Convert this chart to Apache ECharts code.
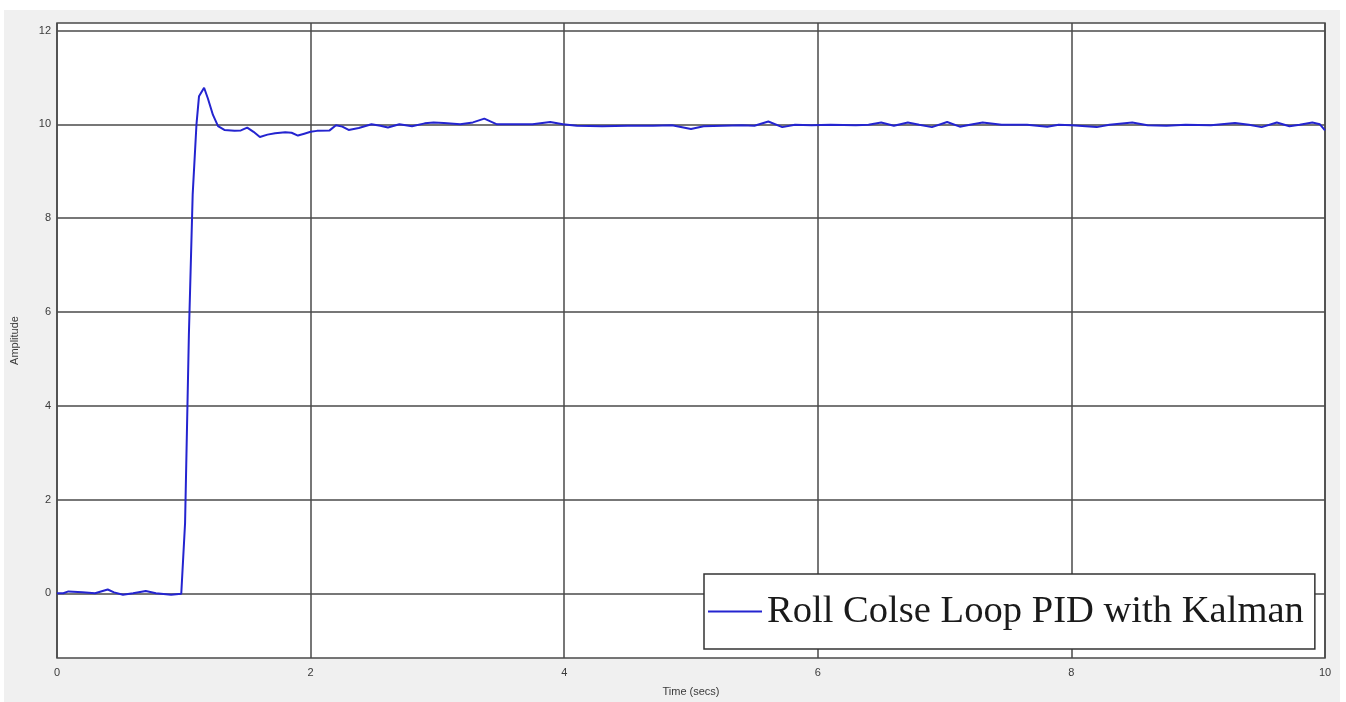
<!DOCTYPE html>
<html><head><meta charset="utf-8">
<script src="https://cdn.jsdelivr.net/npm/echarts@6/dist/echarts.min.js"></script>
<style>
html,body{margin:0;padding:0;background:#fff;}
#bg{position:absolute;left:4px;top:10px;width:1336px;height:692px;background:#f0f0f0;}
#chart{position:absolute;left:0;top:0;width:1346px;height:702px;}
</style></head>
<body>
<div id="bg"></div>
<div id="chart"></div>
<script>
const seriesName = 'Roll Colse Loop PID with Kalman';
const xTicks = [0, 2, 4, 6, 8, 10];
const yTicks = [0, 2, 4, 6, 8, 10, 12];
const times = [0,0.05,0.09,0.2,0.3,0.4,0.45,0.52,0.6,0.7,0.78,0.9,0.98,0.99,1.01,1.04,1.07,1.10,1.12,1.16,1.19,1.23,1.27,1.32,1.40,1.45,1.50,1.55,1.60,1.66,1.72,1.80,1.85,1.90,1.95,2.0,2.05,2.15,2.2,2.25,2.3,2.38,2.48,2.55,2.61,2.7,2.8,2.9,2.97,3.05,3.18,3.28,3.37,3.47,3.6,3.75,3.89,3.99,4.1,4.3,4.5,4.7,4.85,5.0,5.1,5.25,5.4,5.5,5.61,5.72,5.82,5.95,6.1,6.3,6.4,6.5,6.6,6.71,6.8,6.9,7.02,7.12,7.2,7.3,7.45,7.65,7.81,7.9,8.0,8.2,8.3,8.48,8.6,8.75,8.9,9.1,9.29,9.4,9.5,9.62,9.72,9.8,9.9,9.96,10.0];
const amplitude = [0,0.0,0.04,0.02,0.0,0.08,0.02,-0.03,0.0,0.05,0.0,-0.03,-0.01,0,1.5,5.5,8.5,10.0,10.6,10.78,10.55,10.2,9.96,9.88,9.86,9.87,9.93,9.84,9.73,9.78,9.81,9.83,9.82,9.76,9.8,9.84,9.86,9.87,9.98,9.95,9.88,9.92,10.0,9.97,9.93,10.0,9.96,10.02,10.04,10.03,10.0,10.04,10.12,10.0,10.0,10.0,10.05,10.0,9.97,9.96,9.97,9.97,9.98,9.9,9.96,9.97,9.98,9.97,10.06,9.94,9.99,9.98,9.99,9.98,9.99,10.04,9.97,10.04,9.99,9.94,10.05,9.95,9.99,10.04,9.99,9.99,9.95,9.99,9.98,9.94,9.99,10.04,9.98,9.97,9.99,9.98,10.03,9.99,9.94,10.04,9.96,9.99,10.04,10.0,9.87];

const data = times.map((t, i) => [t, amplitude[i]]);
const chart = echarts.init(document.getElementById('chart'), null, {renderer: 'canvas'});
const axisFont = {fontFamily: 'Liberation Sans, Arial, sans-serif', fontSize: 11, color: '#3a3a3a'};
chart.setOption({
  backgroundColor: 'transparent',
  animation: false,
  grid: {left: 57, right: 21, top: 23, bottom: 44, outerBoundsMode: 'none', containLabel: false, show: true, backgroundColor: '#ffffff', borderColor: '#4a4a4a', borderWidth: 1.5},
  xAxis: {
    type: 'value', min: 0, max: 10, interval: 2,
    name: 'Time (secs)', nameLocation: 'middle', nameGap: 28,
    nameTextStyle: axisFont,
    axisLine: {show: false},
    axisTick: {show: false},
    axisLabel: Object.assign({margin: 9}, axisFont),
    splitLine: {show: true, lineStyle: {color: '#4a4a4a', width: 1.5}}
  },
  yAxis: {
    type: 'value', min: -1.38, max: 12.16,
    name: 'Amplitude', nameLocation: 'middle', nameGap: 37, nameRotate: 90,
    nameTextStyle: axisFont,
    axisLine: {show: false},
    axisTick: {show: false, customValues: yTicks},
    axisLabel: Object.assign({margin: 6, customValues: yTicks}, axisFont),
    splitLine: {show: true, lineStyle: {color: '#4a4a4a', width: 1.5}}
  },
  legend: {
    left: 704, top: 574,
    orient: 'horizontal',
    backgroundColor: '#ffffff', borderColor: '#333333', borderWidth: 1.5, borderRadius: 0,
    padding: [18, 11, 18, 4],
    icon: 'rect', itemWidth: 54, itemHeight: 2, itemGap: 4,
    textStyle: {fontFamily: 'Liberation Serif, DejaVu Serif, serif', fontSize: 38.6, color: '#1a1a1a'},
    data: [seriesName]
  },
  series: [{
    name: seriesName, type: 'line', data: data,
    showSymbol: false, symbol: 'none',
    lineStyle: {color: '#2424d0', width: 2},
    itemStyle: {color: '#2424d0'}
  }]
});
</script>
</body></html>
